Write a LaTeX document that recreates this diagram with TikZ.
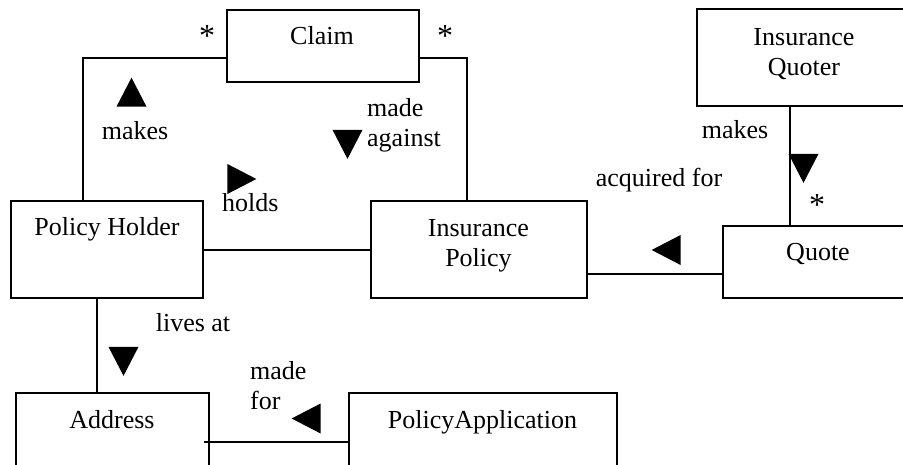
\documentclass[tikz,border=0pt]{standalone}
\usepackage{fontspec}
\setmainfont{Liberation Serif}
\usetikzlibrary{shapes.geometric,positioning}

\begin{document}
\begin{tikzpicture}[x=1pt,y=-1pt,
 cls/.style={draw,line width=2.2pt,inner sep=0pt},
 assoc/.style={line width=1.8pt},
 lbl/.style={inner sep=0pt,font=\fontsize{26}{30}\selectfont},
 mult/.style={inner sep=0pt,font=\fontsize{32}{36}\selectfont},
 dirmark/.style={isosceles triangle,isosceles triangle stretches,fill=black,
   inner sep=0pt,minimum width=30pt,minimum height=29pt,shape border rotate=#1}]
 \useasboundingbox (0,0) rectangle (903,465);
 % classes
 \node[cls,minimum width=192pt,minimum height=72pt] (claim) at (323,46) {};
 \node[cls,minimum width=207pt,minimum height=97pt] (quoter) at (800.5,57.5) {};
 \node[cls,minimum width=192pt,minimum height=97pt] (holder) at (107,249.5) {};
 \node[cls,minimum width=216pt,minimum height=97pt] (policy) at (479,249.5) {};
 \node[cls,minimum width=181pt,minimum height=72pt] (quote) at (813.5,262) {};
 \node[cls,minimum width=193pt,minimum height=97pt] (addr) at (112.5,441.5) {};
 \node[cls,minimum width=268pt,minimum height=97pt] (appl) at (483,441.5) {};
 \node[lbl,anchor=base] (claim_t) at (322,45) {Claim};
 \node[lbl,anchor=base,align=center] (quoter_t) at (804,76) {Insurance\\Quoter};
 \node[lbl,anchor=base] (holder_t) at (107,236) {Policy Holder};
 \node[lbl,anchor=base,align=center] (policy_t) at (478.5,267) {Insurance\\Policy};
 \node[lbl,anchor=base] (quote_t) at (818,261) {Quote};
 \node[lbl,anchor=base] (addr_t) at (112,428) {Address};
 \node[lbl,anchor=base] (appl_t) at (482.5,428) {PolicyApplication};

 % associations
 \draw[assoc] ([yshift=-12pt]claim.west) -| ([xshift=-24pt]holder.north);
 \draw[assoc] ([yshift=-12pt]claim.east) -| ([xshift=-12pt]policy.north);
 \draw[assoc] ([yshift=-0.5pt]holder.east) -- ([yshift=-0.5pt]holder.east -| policy.west);
 \draw[assoc] ([xshift=-10.5pt]quoter.south) -- ([xshift=-10.5pt]quoter.south |- quote.north);
 \draw[assoc] ([yshift=-24.5pt]policy.east) -- ([yshift=-24.5pt]policy.east -| quote.west);
 \draw[assoc] ([xshift=-10pt]holder.south) -- ([xshift=-10pt]holder.south |- addr.north);
 \draw[assoc] ([xshift=-6pt,yshift=-0.5pt]addr.east) -- ([yshift=-0.5pt]addr.east -| appl.west);

 % multiplicities
 \node[mult,anchor=base] (m_left) at (207,47) {*};
 \node[mult,anchor=base] (m_right) at (445,47) {*};
 \node[mult,anchor=base] (m_quote) at (817,216) {*};

 % association names and directions
 \node[dirmark=90] (d_makes) at (131.5,97.5) {};
 \node[lbl,anchor=base] (n_makes) at (135,140) {makes};
 \node[dirmark=0] (d_holds) at (236.5,179) {};
 \node[lbl,anchor=base west] (n_holds) at (222,212) {holds};
 \node[dirmark=-90] (d_against) at (347.5,139) {};
 \node[lbl,anchor=base west,align=left] (n_against) at (367,147) {made\\against};
 \node[dirmark=-90] (d_qmakes) at (803.5,163) {};
 \node[lbl,anchor=base] (n_qmakes) at (735,139) {makes};
 \node[dirmark=180] (d_acq) at (671.5,250) {};
 \node[lbl,anchor=base] (n_acq) at (659,187) {acquired for};
 \node[dirmark=-90] (d_lives) at (123.5,356) {};
 \node[lbl,anchor=base] (n_lives) at (193,331) {lives at};
 \node[dirmark=180] (d_for) at (311.5,418.5) {};
 \node[lbl,anchor=base west,align=left] (n_for) at (250,409) {made\\for};
\end{tikzpicture}
\end{document}
